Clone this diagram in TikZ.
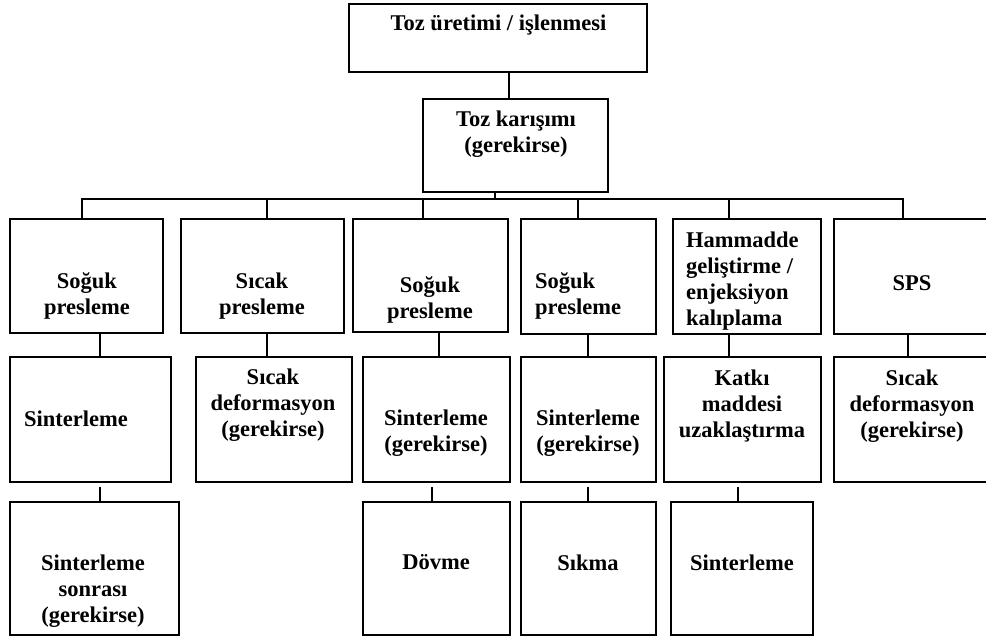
\documentclass[tikz,border=0pt]{standalone}
\usepackage{fontspec}
\setmainfont{Liberation Serif}

\begin{document}
\begin{tikzpicture}[x=1pt, y=-1pt,
    box/.style={draw, line width=1.3pt, inner sep=0pt},
    txt/.style={align=center, inner sep=0pt, font=\fontsize{22.5}{26}\selectfont\bfseries},
    ltxt/.style={txt, align=left, anchor=west}]
    \clip (0,0) rectangle (986,642);

    % boxes
    \node[box, minimum width=298, minimum height=68] (top) at (498,38) {};
    \node[box, minimum width=185, minimum height=93] (mix) at (515.5,145.5) {};

    \node[box, minimum width=153, minimum height=114] (sp1) at (86.5,276) {};
    \node[box, minimum width=163, minimum height=114] (sc1) at (262.5,276) {};
    \node[box, minimum width=155, minimum height=113] (sp2) at (430.5,275.5) {};
    \node[box, minimum width=135, minimum height=115] (sp3) at (588.5,276.5) {};
    \node[box, minimum width=148, minimum height=115] (hm) at (747,276.5) {};
    \node[box, minimum width=156, minimum height=115] (sps) at (912,276.5) {};

    \node[box, minimum width=161, minimum height=125] (sn1) at (90.5,419.5) {};
    \node[box, minimum width=156, minimum height=125] (sd1) at (274,419.5) {};
    \node[box, minimum width=147, minimum height=125] (sn2) at (436.5,419.5) {};
    \node[box, minimum width=135, minimum height=125] (sn3) at (588.5,419.5) {};
    \node[box, minimum width=157, minimum height=125] (kt) at (742.5,419.5) {};
    \node[box, minimum width=156, minimum height=125] (sd2) at (912,419.5) {};

    \node[box, minimum width=169, minimum height=133] (ss) at (94.5,568.5) {};
    \node[box, minimum width=147, minimum height=133] (dv) at (436.5,568.5) {};
    \node[box, minimum width=135, minimum height=133] (sk) at (588.5,568.5) {};
    \node[box, minimum width=142, minimum height=133] (sn4) at (742,568.5) {};

    % texts
    \node[txt] (topt) at (498.5,25.4) {Toz üretimi / işlenmesi};
    \node[txt] (mixt) at (516,134) {Toz karışımı\\(gerekirse)};

    \node[txt] (sp1t) at (87,295.7) {Soğuk\\presleme};
    \node[txt] (sc1t) at (262,295.7) {Sıcak\\presleme};
    \node[txt] (sp2t) at (430,300.4) {Soğuk\\presleme};
    \node[ltxt] (sp3t) at (535,295.7) {Soğuk\\presleme};
    \node[ltxt] (hmt) at (686,281) {Hammadde\\geliştirme /\\enjeksiyon\\kalıplama};
    \node[txt] (spst) at (912,283.4) {SPS};

    \node[ltxt] (sn1t) at (24,419.2) {Sinterleme};
    \node[txt] (sd1t) at (273,405.2) {Sıcak\\deformasyon\\(gerekirse)};
    \node[txt] (sn2t) at (436,433.2) {Sinterleme\\(gerekirse)};
    \node[txt] (sn3t) at (588,433.2) {Sinterleme\\(gerekirse)};
    \node[txt] (ktt) at (742,405.9) {Katkı\\maddesi\\uzaklaştırma};
    \node[txt] (sd2t) at (912,406) {Sıcak\\deformasyon\\(gerekirse)};

    \node[txt] (sst) at (93,590.7) {Sinterleme\\sonrası\\(gerekirse)};
    \node[txt] (dvt) at (436,562.5) {Dövme};
    \node[txt] (skt) at (588,562.5) {Sıkma};
    \node[txt] (sn4t) at (742,562.5) {Sinterleme};

    % connectors
    \begin{scope}[line width=1.3pt]
    \coordinate (bar) at (495,199);
    \draw (top.south -| 509,0) -- (mix.north -| 509,0);
    \draw (mix.south -| bar) -- (bar);
    \draw (sp1.north -| 82,0) |- (bar) -| (sps.north -| 903,0);
    \draw (sc1.north -| 267,0) -- (bar -| 267,0);
    \draw (sp2.north -| 423,0) -- (bar -| 423,0);
    \draw (sp3.north -| 578,0) -- (bar -| 578,0);
    \draw (hm.north -| 729,0) -- (bar -| 729,0);

    \draw (sp1.south -| 100,0) -- (sn1.north -| 100,0);
    \draw (sc1.south -| 267,0) -- (sd1.north -| 267,0);
    \draw (sp2.south -| 439,0) -- (sn2.north -| 439,0);
    \draw (sp3.south -| 588,0) -- (sn3.north -| 588,0);
    \draw (hm.south -| 729,0) -- (kt.north -| 729,0);
    \draw (sps.south -| 908,0) -- (sd2.north -| 908,0);

    \draw (ss.north -| 100,0) -- ++(0,-14);
    \draw (dv.north -| 432,0) -- ++(0,-14);
    \draw (sk.north -| 588,0) -- ++(0,-14);
    \draw (sn4.north -| 738,0) -- ++(0,-14);
    \end{scope}
  \end{tikzpicture}
\end{document}
